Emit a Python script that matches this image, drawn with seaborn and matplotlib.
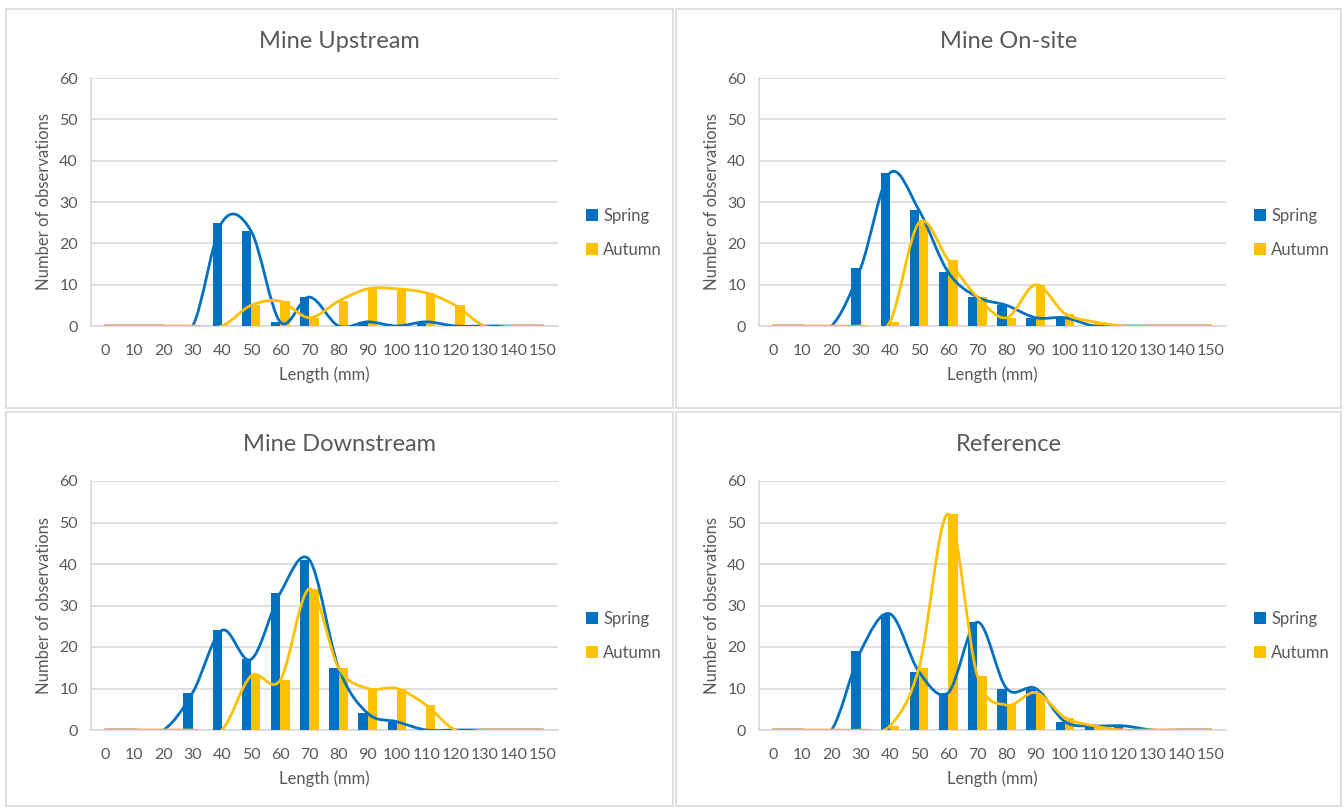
import numpy as np
import pandas as pd
import matplotlib
matplotlib.use("Agg")
import matplotlib.pyplot as plt
from matplotlib.path import Path
from matplotlib.patches import PathPatch, Rectangle
import seaborn as sns

# valores (número de observações por classe de comprimento)
lengths = [0, 10, 20, 30, 40, 50, 60, 70, 80, 90, 100, 110, 120, 130, 140, 150]

upstream_spring = [0, 0, 0, 0, 25, 23, 1, 7, 0, 1, 0, 1, 0, 0, 0, 0]
upstream_autumn = [0, 0, 0, 0, 0, 5, 6, 2, 6, 9, 9, 8, 5, 0, 0, 0]

onsite_spring = [0, 0, 0, 14, 37, 28, 13, 7, 5, 2, 2, 0, 0, 0, 0, 0]
onsite_autumn = [0, 0, 0, 0, 1, 25, 16, 7, 2, 10, 3, 1, 0, 0, 0, 0]

downstream_spring = [0, 0, 0, 9, 24, 17, 33, 41, 15, 4, 2, 0, 0, 0, 0, 0]
downstream_autumn = [0, 0, 0, 0, 0, 13, 12, 34, 15, 10, 10, 6, 0, 0, 0, 0]

reference_spring = [0, 0, 0, 19, 28, 14, 9, 26, 10, 10, 2, 1, 1, 0, 0, 0]
reference_autumn = [0, 0, 0, 0, 1, 15, 52, 13, 6, 9, 3, 1, 0, 0, 0, 0]

sites = ["Mine Upstream", "Mine On-site", "Mine Downstream", "Reference"]
spring = [upstream_spring, onsite_spring, downstream_spring, reference_spring]
autumn = [upstream_autumn, onsite_autumn, downstream_autumn, reference_autumn]

BLUE = "#0070C0"
GOLD = "#FFC000"
TXT = "#595959"
GRID = "#D9D9D9"

sns.set_style("white")
plt.rcParams["font.family"] = ["Lato", "DejaVu Sans"]


def smooth_line(ax, y, color):
    # linha suavizada tipo Excel (Bezier pelos pontos das categorias)
    x = np.arange(len(y), dtype=float)
    y = np.asarray(y, dtype=float)
    pts = np.column_stack([x, y])
    verts = [pts[0]]
    codes = [Path.MOVETO]
    n = len(pts)
    for i in range(n - 1):
        p0 = pts[max(i - 1, 0)]
        p1 = pts[i]
        p2 = pts[i + 1]
        p3 = pts[min(i + 2, n - 1)]
        verts += [p1 + (p2 - p0) / 6, p2 - (p3 - p1) / 6, p2]
        codes += [Path.CURVE4] * 3
    ax.add_patch(PathPatch(Path(verts, codes), fill=False, edgecolor=color,
                           lw=2, capstyle="round", zorder=4))


fig = plt.figure(figsize=(13.44, 8.09), dpi=100)

# posições dos painéis (px) e dos eixos
W, H = 1344, 809
panels = [(6, 9, 667, 399), (676, 9, 665, 399), (6, 412, 667, 394), (676, 412, 665, 394)]
axes_pos = [(90.5, 78, 557.5, 326), (758.5, 78, 1225.5, 326),
            (90.5, 481, 557.5, 730), (758.5, 481, 1225.5, 730)]

for k in range(4):
    px, py, pw, ph = panels[k]
    fig.patches.append(Rectangle((px / W, 1 - (py + ph) / H), pw / W, ph / H,
                                 transform=fig.transFigure, fill=False,
                                 edgecolor=GRID, lw=1.2, zorder=0))
    l, t, r, b = axes_pos[k]
    ax = fig.add_axes([l / W, 1 - b / H, (r - l) / W, (b - t) / H])

    df = pd.DataFrame({
        "Length": [str(v) for v in lengths] * 2,
        "Count": spring[k] + autumn[k],
        "Season": ["Spring"] * len(lengths) + ["Autumn"] * len(lengths),
    })
    sns.barplot(data=df, x="Length", y="Count", hue="Season",
                palette=[BLUE, GOLD], width=0.64, gap=0, saturation=1,
                edgecolor="none", linewidth=0, ax=ax, zorder=3)

    smooth_line(ax, spring[k], BLUE)
    smooth_line(ax, autumn[k], GOLD)

    ax.set_xlim(-0.5, len(lengths) - 0.5)
    ax.set_ylim(0, 60)
    ax.set_yticks(range(0, 61, 10))
    ax.yaxis.grid(True, color=GRID, lw=1.2, zorder=0)
    ax.set_axisbelow(True)
    for s in ["top", "right"]:
        ax.spines[s].set_visible(False)
    for s in ["left", "bottom"]:
        ax.spines[s].set_color(GRID)
        ax.spines[s].set_linewidth(1.2)
    ax.tick_params(axis="y", length=0, labelsize=11.5, colors=TXT, pad=9)
    ax.tick_params(axis="x", length=0, labelsize=11.5, colors=TXT, pad=13)

    ax.set_xlabel("Length (mm)", fontsize=12, color=TXT, labelpad=6)
    ax.set_ylabel("Number of observations", fontsize=12, color=TXT, labelpad=5)
    # título centrado no painel, como no Excel
    fig.text((px + pw / 2) / W, 1 - (py + 33) / H, sites[k], fontsize=17,
             color=TXT, ha="center", va="center")

    handles, labels = ax.get_legend_handles_labels()
    ax.legend(handles, labels, loc="center left",
              bbox_to_anchor=((r + 28) / W, 1 - (t + 155) / H),
              bbox_transform=fig.transFigure, frameon=False,
              fontsize=12, labelcolor=TXT, handlelength=0.75,
              handleheight=0.75, handletextpad=0.3, labelspacing=1.1,
              borderpad=0, borderaxespad=0)

plt.savefig("out.png", dpi=100)
